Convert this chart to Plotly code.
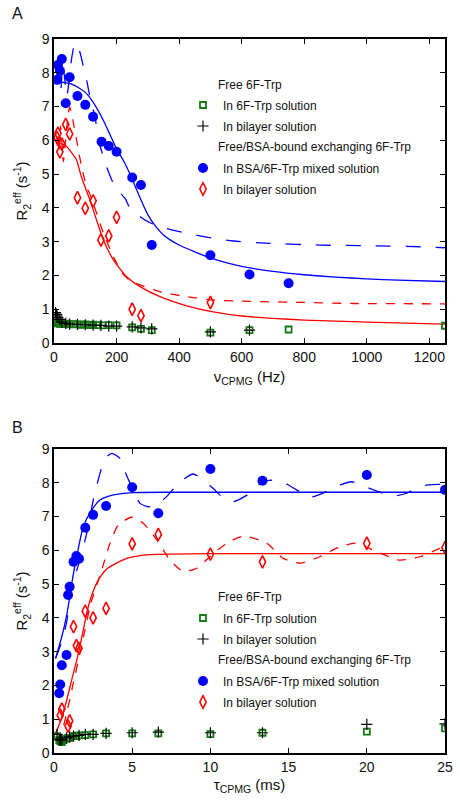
import plotly.graph_objects as go

# ---------------- Panel A (x = nu_CPMG, Hz) ----------------
a_nu_bsa = [10, 12.5, 18.75, 25, 37.5, 50, 75, 100, 125, 152, 175, 200, 250, 278, 312.5, 500, 625, 750]
a_r2_bsa = [7.79, 8.23, 8.06, 8.41, 7.1, 7.87, 7.31, 7.05, 6.7, 5.96, 5.83, 5.66, 4.9, 4.68, 2.9, 2.6, 2.03, 1.77]

a_nu_bil = [10, 12.5, 18.75, 25, 37.5, 50, 75, 100, 125, 150, 175, 200, 250, 278, 500]
a_r2_bil = [6.08, 6.21, 5.66, 5.89, 6.47, 6.19, 4.3, 3.99, 4.21, 3.05, 3.17, 3.72, 1.0, 0.81, 1.2]

a_nu_free = [10, 12.5, 15, 18.75, 25, 30, 37.5, 50, 62.5, 75, 87.5, 100, 112.5, 125, 140, 156, 175, 200, 250, 278, 312.5, 500, 625, 750, 1250]
a_r2_free = [0.6, 0.58, 0.6, 0.57, 0.58, 0.56, 0.57, 0.55, 0.56, 0.55, 0.54, 0.55, 0.53, 0.54, 0.53, 0.52, 0.53, 0.52, 0.46, 0.42, 0.38, 0.31, 0.38, 0.4, 0.51]

a_nu_freebil = [5, 8, 10, 12.5, 18.75, 25, 37.5, 50, 75, 100, 125, 150, 175, 200, 250, 278, 312.5, 500, 625]
a_r2_freebil = [0.9, 0.85, 0.8, 0.75, 0.7, 0.62, 0.58, 0.56, 0.55, 0.54, 0.53, 0.52, 0.5, 0.5, 0.48, 0.45, 0.42, 0.33, 0.38]

a_fit_bsa_nu = [10, 25, 40, 60, 80, 100, 120, 140, 160, 180, 200, 225, 250, 275, 300, 325, 350, 375, 400, 450, 500, 550, 600, 700, 800, 900, 1000, 1100, 1250]
a_fit_bsa_r2 = [7.72, 7.72, 7.7, 7.65, 7.55, 7.42, 7.2, 6.9, 6.55, 6.15, 5.75, 5.35, 4.85, 4.3, 3.8, 3.45, 3.2, 3.03, 2.9, 2.7, 2.52, 2.38, 2.27, 2.12, 2.02, 1.95, 1.9, 1.86, 1.82]

a_osc_bsa_nu = [10, 12.5, 15, 17.5, 21.5, 28, 34, 41, 48, 56, 63, 70, 78, 86, 94, 105, 115, 131, 142, 155, 168, 195, 227, 243, 275, 307, 339, 424, 509, 573, 690, 850, 1010, 1170, 1250]
a_osc_bsa_r2 = [7.9, 8.03, 7.6, 8.08, 7.45, 8.26, 7.85, 7.3, 7.75, 8.4, 8.75, 8.88, 8.75, 8.5, 8.18, 7.75, 7.29, 6.7, 6.01, 5.6, 5.22, 4.63, 4.28, 3.99, 3.74, 3.56, 3.44, 3.25, 3.1, 3.02, 2.95, 2.9, 2.88, 2.85, 2.82]

a_fit_bil_nu = [10, 20, 40, 55, 72, 85, 94, 115, 136, 158, 190, 232, 275, 339, 424, 509, 600, 700, 800, 1000, 1250]
a_fit_bil_r2 = [5.9, 5.9, 5.82, 5.65, 5.42, 5.0, 4.75, 4.23, 3.64, 3.05, 2.46, 1.96, 1.67, 1.37, 1.1, 0.92, 0.8, 0.73, 0.68, 0.62, 0.56]

a_osc_bil_nu = [10, 11.3, 12.9, 15.9, 20.7, 25, 30, 40, 50, 56.5, 64, 72.5, 80, 88.5, 104, 115, 136, 158, 190, 220, 240, 275, 339, 424, 509, 595, 690, 800, 957, 1250]
a_osc_bil_r2 = [6.1, 5.71, 6.21, 5.62, 6.42, 6.0, 5.37, 6.3, 6.98, 6.8, 6.4, 6.0, 5.6, 5.22, 4.63, 4.4, 3.85, 3.25, 2.55, 2.05, 1.88, 1.72, 1.52, 1.37, 1.27, 1.24, 1.22, 1.2, 1.17, 1.16]

# ---------------- Panel B (x = tau_CPMG, ms) ----------------
b_tau_bsa = [0.333, 0.4, 0.5, 0.8, 0.9, 1.0, 1.25, 1.43, 1.6, 2.0, 2.5, 3.33, 5, 6.67, 10, 13.33, 20, 25]
b_r2_bsa = [1.77, 2.03, 2.6, 2.9, 4.68, 4.92, 5.66, 5.83, 5.75, 6.67, 7.05, 7.31, 7.87, 7.1, 8.41, 8.06, 8.23, 7.79]

b_tau_bil = [0.4, 0.5, 0.9, 1.0, 1.25, 1.43, 1.6, 2.0, 2.5, 3.33, 5, 6.67, 10, 13.33, 20, 25]
b_r2_bil = [1.12, 1.3, 0.8, 0.95, 3.74, 3.18, 3.1, 4.2, 4.0, 4.28, 6.19, 6.47, 5.89, 5.66, 6.21, 6.08]

b_tau_free = [0.2, 0.333, 0.4, 0.5, 0.6, 0.8, 0.9, 1.0, 1.25, 1.43, 1.6, 2.0, 2.5, 3.33, 5, 6.67, 10, 13.33, 20, 25]
b_r2_free = [0.5, 0.38, 0.35, 0.32, 0.38, 0.42, 0.45, 0.45, 0.5, 0.5, 0.52, 0.53, 0.55, 0.58, 0.58, 0.58, 0.56, 0.6, 0.63, 0.73]

b_tau_freebil = [0.2, 0.333, 0.4, 0.5, 0.8, 1.0, 1.25, 1.6, 2.0, 2.5, 3.33, 5, 6.67, 10, 13.33, 20, 25]
b_r2_freebil = [0.55, 0.4, 0.38, 0.4, 0.45, 0.48, 0.5, 0.52, 0.55, 0.55, 0.58, 0.6, 0.62, 0.6, 0.6, 0.85, 0.86]

b_fit_bsa_tau = [0.1, 0.5, 0.8, 1.0, 1.2, 1.45, 1.87, 2.41, 2.94, 3.79, 5.07, 8, 12, 16, 20, 25]
b_fit_bsa_r2 = [2.8, 3.45, 4.05, 4.6, 5.2, 5.81, 6.7, 7.19, 7.49, 7.64, 7.71, 7.72, 7.72, 7.72, 7.72, 7.72]

b_osc_bsa_tau = [0.1, 0.5, 0.8, 1.13, 1.45, 1.77, 2.19, 2.51, 2.94, 3.26, 3.69, 4.22, 4.54, 4.97, 5.5, 6.03, 6.6, 7.2, 8.06, 8.9, 9.55, 10.19, 10.72, 11.47, 12.53, 13.34, 14.34, 15.51, 16.37, 17.43, 18.29, 19.03, 20.42, 21.7, 22.55, 23.4, 24.68, 25]
b_osc_bsa_r2 = [2.8, 3.3, 3.85, 4.92, 5.4, 5.91, 6.7, 7.49, 8.28, 8.72, 8.87, 8.72, 8.33, 7.88, 7.39, 7.29, 7.35, 7.59, 8.03, 8.26, 8.08, 7.83, 7.59, 7.44, 7.69, 8.03, 8.08, 7.79, 7.57, 7.74, 7.93, 8.03, 7.79, 7.61, 7.69, 7.9, 7.95, 7.9]

b_fit_bil_tau = [0.05, 0.28, 0.7, 1.13, 1.56, 1.87, 2.19, 2.62, 2.94, 3.37, 4.0, 4.65, 5.71, 7.2, 10, 15, 20, 25]
b_fit_bil_r2 = [0.55, 0.78, 1.37, 2.16, 2.95, 3.64, 4.33, 4.92, 5.2, 5.45, 5.62, 5.76, 5.86, 5.89, 5.9, 5.9, 5.9, 5.9]

b_osc_bil_tau = [0.05, 0.38, 0.81, 1.23, 1.66, 1.98, 2.35, 2.73, 3.05, 3.58, 4.11, 4.97, 5.71, 6.57, 7.42, 8.27, 9.12, 9.97, 11.04, 12.1, 13.6, 14.66, 15.73, 17.0, 18.29, 19.35, 20.63, 22.12, 23.4, 24.68, 25]
b_osc_bil_r2 = [0.4, 0.48, 1.18, 2.06, 2.95, 3.64, 4.43, 4.97, 5.42, 6.21, 6.75, 6.98, 6.8, 6.31, 5.71, 5.37, 5.47, 5.81, 6.21, 6.42, 6.21, 5.76, 5.62, 5.81, 6.11, 6.21, 5.96, 5.71, 5.81, 6.06, 6.1]

a_xticks = [0, 200, 400, 600, 800, 1000, 1200]
b_xticks = [0, 5, 10, 15, 20, 25]
y_ticks = [0, 1, 2, 3, 4, 5, 6, 7, 8, 9]

group_titles = ["Free 6F-Trp", "Free/BSA-bound exchanging 6F-Trp"]
item_names = ["In 6F-Trp solution", "In bilayer solution", "In BSA/6F-Trp mixed solution", "In bilayer solution"]

BLUE = "#0000ff"
RED = "#ff0000"
GREEN = "#127a12"
FONT = "Liberation Sans"
TXT = "#111"

W, H = 460, 805
L, R, T, B = 54, 445, 39, 753          # plot area in pixels
PW, PH = R - L, B - T

def px(x):
    return (x - L) / PW

def py(y):
    return (B - y) / PH

fig = go.Figure()

marker_styles = [
    dict(symbol="square-open", size=6, color=GREEN, line=dict(width=1.8, color=GREEN)),
    dict(symbol="cross-thin-open", size=8, color="black", line=dict(width=1.2, color="black")),
    dict(symbol="circle", size=10, color=BLUE, line=dict(width=0)),
    dict(symbol="diamond-tall-open", size=9, color=RED, line=dict(width=1.6, color=RED)),
]

def add_panel(xa, ya, legends, fits, series):
    for (xs, ys, col, dash) in fits:
        fig.add_trace(go.Scatter(x=xs, y=ys, mode="lines", xaxis=xa, yaxis=ya,
                                 line=dict(color=col, width=1.3, dash=dash, shape="spline", smoothing=0.6),
                                 showlegend=False, hoverinfo="skip"))
    for (xs, ys), name, leg, mk in zip(series, item_names, legends, marker_styles):
        fig.add_trace(go.Scatter(x=xs, y=ys, mode="markers", xaxis=xa, yaxis=ya,
                                 name=name, legend=leg, marker=mk))

add_panel("x", "y", ["legend", "legend2", "legend3", "legend4"],
          [(a_osc_bsa_nu, a_osc_bsa_r2, BLUE, "longdash"), (a_fit_bsa_nu, a_fit_bsa_r2, BLUE, "solid"),
           (a_osc_bil_nu, a_osc_bil_r2, RED, "dash"), (a_fit_bil_nu, a_fit_bil_r2, RED, "solid")],
          [(a_nu_free, a_r2_free), (a_nu_freebil, a_r2_freebil), (a_nu_bsa, a_r2_bsa), (a_nu_bil, a_r2_bil)])
add_panel("x2", "y2", ["legend5", "legend6", "legend7", "legend8"],
          [(b_osc_bsa_tau, b_osc_bsa_r2, BLUE, "longdash"), (b_fit_bsa_tau, b_fit_bsa_r2, BLUE, "solid"),
           (b_osc_bil_tau, b_osc_bil_r2, RED, "dash"), (b_fit_bil_tau, b_fit_bil_r2, RED, "solid")],
          [(b_tau_free, b_r2_free), (b_tau_freebil, b_r2_freebil), (b_tau_bsa, b_r2_bsa), (b_tau_bil, b_r2_bil)])

axis_common = dict(showline=True, linecolor="black", linewidth=1.5, mirror="ticks", ticks="inside",
                   ticklen=5, tickwidth=1.2, tickcolor="black", showgrid=False, zeroline=False,
                   automargin=False, tickfont=dict(family=FONT, size=14, color=TXT))
ytitle = dict(text="R<sub>2</sub><sup>eff</sup> (s<sup>-1</sup>)", font=dict(family=FONT, size=15, color=TXT), standoff=10)

legend_common = dict(font=dict(family=FONT, size=12, color=TXT), bgcolor="rgba(0,0,0,0)",
                     itemsizing="trace", xanchor="left", yanchor="middle")

# legend rows (pixel centre lines) for the two panels
rows_A = [105, 126, 168, 189]
rows_B = [618, 639, 681, 702]
title_rows_A = [85, 147]
title_rows_B = [597, 660]

legend_layout = {}
for i, yy in enumerate(rows_A + rows_B):
    key = "legend" if i == 0 else "legend%d" % (i + 1)
    legend_layout[key] = dict(x=px(183), y=py(yy), **legend_common)

annotations = [
    dict(text="A", x=px(17), y=py(14), xref="paper", yref="paper", showarrow=False,
         font=dict(family=FONT, size=16, color=TXT), xanchor="center", yanchor="middle"),
    dict(text="B", x=px(17), y=py(427), xref="paper", yref="paper", showarrow=False,
         font=dict(family=FONT, size=16, color=TXT), xanchor="center", yanchor="middle"),
]
for yy, txt in zip(title_rows_A + title_rows_B, group_titles + group_titles):
    annotations.append(dict(text=txt, x=px(216), y=py(yy), xref="paper", yref="paper", showarrow=False,
                            font=dict(family=FONT, size=12, color=TXT), xanchor="left", yanchor="middle"))

fig.update_layout(
    width=W, height=H, margin=dict(l=L, r=W - R, t=T, b=H - B, autoexpand=False),
    paper_bgcolor="white", plot_bgcolor="white",
    xaxis=dict(domain=[0, 1], anchor="y", range=[0, 1250], tickvals=a_xticks, **axis_common,
               title=dict(text="ν<sub>CPMG</sub> (Hz)", font=dict(family=FONT, size=15, color=TXT), standoff=8)),
    yaxis=dict(domain=[py(343), 1], anchor="x", range=[0, 9], tickvals=y_ticks, **axis_common, title=ytitle),
    xaxis2=dict(domain=[0, 1], anchor="y2", range=[0, 25], tickvals=b_xticks, **axis_common,
                title=dict(text="τ<sub>CPMG</sub> (ms)", font=dict(family=FONT, size=15, color=TXT), standoff=6)),
    yaxis2=dict(domain=[0, py(449)], anchor="x2", range=[0, 9], tickvals=y_ticks, **axis_common, title=ytitle),
    annotations=annotations,
    **legend_layout,
)

fig.write_html("out.html", config={"displayModeBar": False},
               post_script="document.body.style.margin='0px';document.body.style.overflow='hidden';")
